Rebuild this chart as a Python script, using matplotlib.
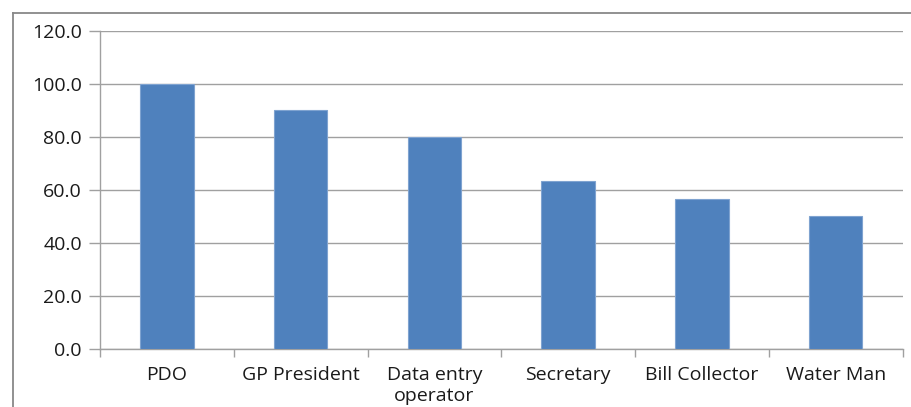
import matplotlib
matplotlib.use("Agg")
import matplotlib.pyplot as plt
from matplotlib.lines import Line2D
from matplotlib.ticker import FixedLocator, NullFormatter

categories = ["PDO", "GP President", "Data entry\noperator", "Secretary", "Bill Collector", "Water Man"]
values = [100.0, 90.0, 80.0, 63.3, 56.7, 50.0]
y_ticks = [0, 20, 40, 60, 80, 100, 120]
y_labels = ["0.0", "20.0", "40.0", "60.0", "80.0", "100.0", "120.0"]

plt.rcParams["font.family"] = ["Open Sans", "DejaVu Sans"]

fig = plt.figure(figsize=(9.11, 4.07), dpi=100)
fig.patch.set_facecolor("white")

# outer chart border (left and top edges)
border_x = 12.5 / 911
border_y = 1 - 13 / 407
fig.add_artist(Line2D([border_x, border_x], [0, border_y], transform=fig.transFigure,
                      color="#888888", linewidth=1.3))
fig.add_artist(Line2D([border_x, 1], [border_y, border_y], transform=fig.transFigure,
                      color="#888888", linewidth=1.3))

ax = fig.add_axes([100 / 911, 58 / 407, 802.6 / 911, 318 / 407])
x = list(range(len(categories)))
ax.bar(x, values, width=0.4, color="#4F81BD", edgecolor="#7FA3D0", linewidth=0.8, zorder=3)

ax.set_xlim(-0.5, len(categories) - 0.5)
ax.set_ylim(0, 120)
ax.set_yticks(y_ticks)
ax.set_yticklabels(y_labels)
ax.yaxis.grid(True, color="#A0A0A0", linewidth=1.0, zorder=0)

ax.set_xticks(x)
ax.set_xticklabels(categories, linespacing=1.25)
ax.xaxis.set_minor_locator(FixedLocator([i - 0.5 for i in range(len(categories) + 1)]))
ax.xaxis.set_minor_formatter(NullFormatter())
ax.tick_params(axis="x", which="major", length=0, pad=12, labelsize=14, labelcolor="#1a1a1a")
ax.tick_params(axis="x", which="minor", length=6, color="#A0A0A0", width=1)
ax.tick_params(axis="y", length=8, color="#A0A0A0", width=1, pad=5, labelsize=14, labelcolor="#1a1a1a")

for side in ["top", "right"]:
    ax.spines[side].set_visible(False)
for side in ["left", "bottom"]:
    ax.spines[side].set_color("#A0A0A0")
    ax.spines[side].set_linewidth(1.0)

fig.savefig("out.png", dpi=100, facecolor="white")
